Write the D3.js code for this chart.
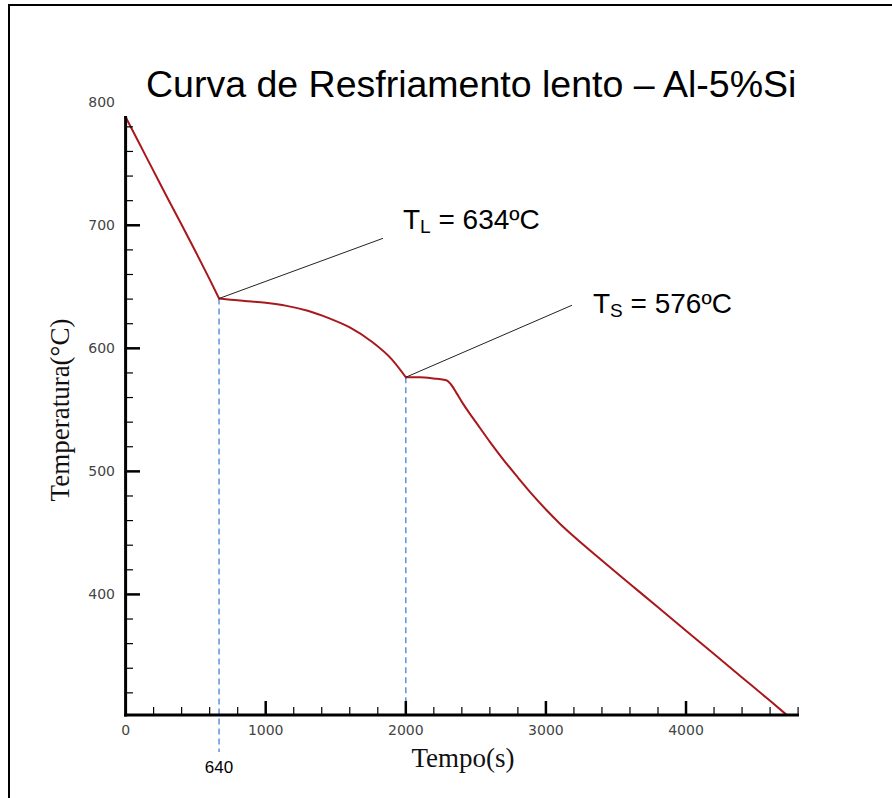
<!DOCTYPE html>
<html>
<head>
<meta charset="utf-8">
<script src="https://cdn.jsdelivr.net/npm/d3@7/dist/d3.min.js"></script>
<style>
  html, body { margin: 0; padding: 0; background: #fff; }
  svg { display: block; }
</style>
</head>
<body>
<script>
// ---------- data ----------
const titleText = "Curva de Resfriamento lento \u2013 Al-5%Si";
const xLabel = "Tempo(s)";
const yLabel = "Temperatura(\u00B0C)";

// cooling curve: time (s) and temperature (°C), three stages
const stage1Time = [0, 100, 200, 300, 400, 500, 600, 667];
const stage1Temp = [788, 766, 744, 722, 700.5, 678.5, 656, 640.5];
const stage2Time = [667, 750, 850, 1000, 1150, 1300, 1450, 1600, 1750, 1900, 2000];
const stage2Temp = [640.5, 639.5, 638.5, 637, 634.5, 630.5, 624.5, 617, 606, 591, 576.5];
const stage3Time = [2000, 2100, 2200, 2290, 2320, 2360, 2400, 2450, 2500, 2600, 2700, 2800,
  2900, 3000, 3100, 3200, 3400, 3600, 3800, 4000, 4200, 4400, 4600, 4714];
const stage3Temp = [576.5, 576.5, 575.5, 574, 571, 564, 556.5, 548, 540, 524, 509, 495,
  481.5, 469, 457.5, 447, 427.5, 408.5, 389.5, 370.5, 351.5, 332.5, 313.5, 302.5];

const xTickMajor = [0, 1000, 2000, 3000, 4000];
const xTickLabels = ["0", "1000", "2000", "3000", "4000"];
const yTickLabelValues = [400, 500, 600, 700, 800];
const yTickLabels = ["400", "500", "600", "700", "800"];

// annotations
const liquidusTime = 667, liquidusTemp = 640.5, liquidusLabel = "640";
const solidusTime = 2000, solidusTemp = 576.5;
const tlText = ["T", "L", " = 634\u00BAC"];
const tsText = ["T", "S", " = 576\u00BAC"];

// ---------- layout ----------
const W = 892, H = 798;
const svg = d3.select("body").append("svg").attr("width", W).attr("height", H);

svg.append("rect").attr("x", 9).attr("y", 5).attr("width", 900).attr("height", 820)
  .attr("fill", "none").attr("stroke", "#000").attr("stroke-width", 2);

const x = d3.scaleLinear().domain([0, 4800]).range([125.6, 798.1]);
const y = d3.scaleLinear().domain([302, 788]).range([715, 117]);

// title
svg.append("text").attr("x", 146).attr("y", 97)
  .attr("font-family", "Liberation Sans, Arial, sans-serif").attr("font-size", 37.5)
  .attr("fill", "#000").text(titleText);

// dashed guide lines
const blue = "#5f93dc";
svg.append("line").attr("x1", x(liquidusTime)).attr("x2", x(liquidusTime))
  .attr("y1", y(liquidusTemp)).attr("y2", 752)
  .attr("stroke", blue).attr("stroke-width", 1.5).attr("stroke-dasharray", "6,4");
svg.append("line").attr("x1", x(solidusTime)).attr("x2", x(solidusTime))
  .attr("y1", y(solidusTemp)).attr("y2", 716)
  .attr("stroke", blue).attr("stroke-width", 1.5).attr("stroke-dasharray", "6,4");

// curve (each stage smooth, kinks at liquidus and solidus)
const lineGen = d3.line().x(d => x(d[0])).y(d => y(d[1])).curve(d3.curveMonotoneX);
[[stage1Time, stage1Temp], [stage2Time, stage2Temp], [stage3Time, stage3Temp]].forEach(([ts, vs]) => {
  svg.append("path").datum(ts.map((t, i) => [t, vs[i]]))
    .attr("d", lineGen)
    .attr("fill", "none").attr("stroke", "#a8181c").attr("stroke-width", 2)
    .attr("stroke-linejoin", "round").attr("stroke-linecap", "round");
});

// axes
const axisG = svg.append("g");
d3.range(200, 4801, 200).forEach(v => {
  const major = v % 1000 === 0;
  axisG.append("line").attr("x1", x(v)).attr("x2", x(v))
    .attr("y1", 715).attr("y2", major ? 701 : 707)
    .attr("stroke", "#000").attr("stroke-width", major ? 2.5 : 1.2);
});
d3.range(320, 781, 20).forEach(v => {
  const major = v % 100 === 0;
  axisG.append("line").attr("x1", 125.6).attr("x2", major ? 140 : 133)
    .attr("y1", y(v)).attr("y2", y(v))
    .attr("stroke", "#000").attr("stroke-width", major ? 2.5 : 1.2);
});
axisG.append("line").attr("x1", 125.6).attr("x2", 125.6).attr("y1", 116).attr("y2", 716.5)
  .attr("stroke", "#000").attr("stroke-width", 3);
axisG.append("line").attr("x1", 124.1).attr("x2", 799).attr("y1", 715).attr("y2", 715)
  .attr("stroke", "#000").attr("stroke-width", 3);

// tick labels
const tickFont = "DejaVu Sans, Verdana, sans-serif";
xTickMajor.forEach((v, i) => {
  svg.append("text").attr("x", x(v)).attr("y", 735).attr("text-anchor", "middle")
    .attr("font-family", tickFont).attr("font-size", 14).attr("fill", "#444")
    .text(xTickLabels[i]);
});
yTickLabelValues.forEach((v, i) => {
  svg.append("text").attr("x", 115).attr("y", y(v)).attr("dy", "0.36em")
    .attr("text-anchor", "end")
    .attr("font-family", tickFont).attr("font-size", 14).attr("fill", "#444")
    .text(yTickLabels[i]);
});

// axis titles
svg.append("text").attr("x", 463).attr("y", 767).attr("text-anchor", "middle")
  .attr("font-family", "Liberation Serif, Times New Roman, serif").attr("font-size", 27)
  .attr("fill", "#111").text(xLabel);
svg.append("text").attr("transform", "translate(69,410) rotate(-90)")
  .attr("text-anchor", "middle")
  .attr("font-family", "Liberation Serif, Times New Roman, serif").attr("font-size", 27)
  .attr("fill", "#111").text(yLabel);

// liquidus x label
svg.append("text").attr("x", x(liquidusTime)).attr("y", 773).attr("text-anchor", "middle")
  .attr("font-family", "Liberation Sans, Arial, sans-serif").attr("font-size", 17)
  .attr("fill", "#000").text(liquidusLabel);

// annotation leader lines
svg.append("line").attr("x1", x(liquidusTime)).attr("y1", y(liquidusTemp))
  .attr("x2", x(1837)).attr("y2", y(689.4)).attr("stroke", "#222").attr("stroke-width", 1);
svg.append("line").attr("x1", x(solidusTime)).attr("y1", y(solidusTemp))
  .attr("x2", x(3186)).attr("y2", y(635)).attr("stroke", "#222").attr("stroke-width", 1);

function label(px, py, parts) {
  const t = svg.append("text").attr("x", px).attr("y", py)
    .attr("font-family", "Liberation Sans, Arial, sans-serif").attr("font-size", 28)
    .attr("fill", "#000");
  t.append("tspan").text(parts[0]);
  t.append("tspan").attr("font-size", 19).attr("dy", 4).text(parts[1]);
  t.append("tspan").attr("dy", -4).text(parts[2]);
}
label(x(1980), y(696.8), tlText);
label(x(3336), y(628.5), tsText);
</script>
</body>
</html>
